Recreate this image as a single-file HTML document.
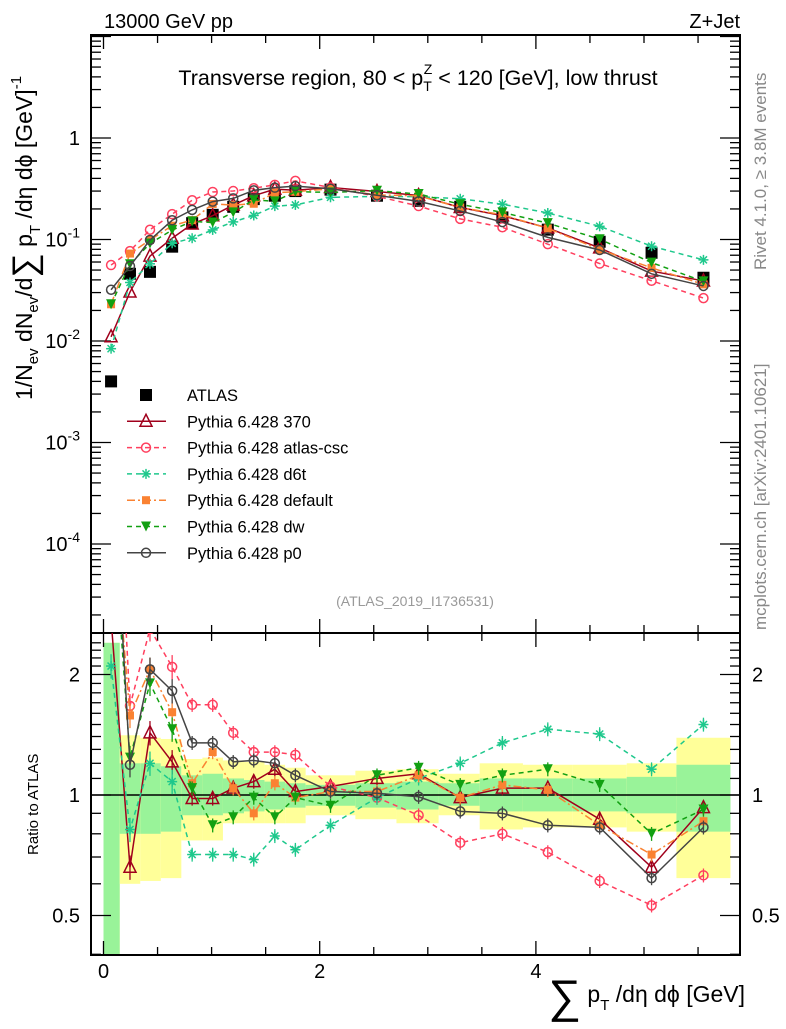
<!DOCTYPE html>
<html><head><meta charset="utf-8"><style>
body{margin:0;background:#fff;}
svg text{font-family:"Liberation Sans",sans-serif;}
</style></head><body>
<svg id="c" width="786" height="1024" viewBox="0 0 786 1024" xmlns="http://www.w3.org/2000/svg">
<defs>
<clipPath id="cm"><rect x="91" y="35" width="649" height="598"/></clipPath>
<clipPath id="cr"><rect x="91" y="633" width="649" height="322"/></clipPath>
</defs>
<text x="104" y="28" font-size="20">13000 GeV pp</text>
<text x="740" y="28" font-size="20" text-anchor="end">Z+Jet</text>
<text x="418" y="85" font-size="21.5" text-anchor="middle">Transverse region, 80 &lt; p<tspan font-size="14" dy="6">T</tspan><tspan font-size="14" dx="-8" dy="-17">Z</tspan><tspan dy="11"> &lt; 120 [GeV], low thrust</tspan></text>
<text transform="translate(766,270) rotate(-90)" font-size="17" fill="#888">Rivet 4.1.0, ≥ 3.8M events</text>
<text transform="translate(766,630) rotate(-90)" font-size="17" fill="#888">mcplots.cern.ch [arXiv:2401.10621]</text>
<text x="415" y="606" font-size="14" fill="#999" text-anchor="middle">(ATLAS_2019_I1736531)</text>
<text transform="translate(32,400) rotate(-90)" font-size="23">1/N<tspan font-size="15" dy="6">ev</tspan><tspan dy="-6"> dN</tspan><tspan font-size="15" dy="6">ev</tspan><tspan dy="-6">/d</tspan><tspan font-size="34" dy="4">∑</tspan><tspan dy="-4"> p</tspan><tspan font-size="15" dy="8">T</tspan><tspan dy="-8"> /dη dϕ  [GeV]</tspan><tspan font-size="15" dy="-11">-1</tspan></text>
<text transform="translate(38,855) rotate(-90)" font-size="15">Ratio to ATLAS</text>
<text x="745" y="1002" font-size="23" text-anchor="end"><tspan font-size="46" dy="10">∑</tspan><tspan dy="-10"> p</tspan><tspan font-size="15" dy="8">T</tspan><tspan dy="-8"> /dη dϕ [GeV]</tspan></text>
<g id="bands" clip-path="url(#cr)"></g>
<g id="axes"></g>
<g id="mainMarks" clip-path="url(#cm)"></g>
<g id="ratioMarks" clip-path="url(#cr)"></g>
<g id="legend"></g>
</svg>
<script>
const xVals=[0.07,0.245,0.43,0.635,0.82,1.01,1.2,1.39,1.585,1.775,2.1,2.53,2.915,3.3,3.69,4.11,4.59,5.07,5.55];
const binEdges=[0,0.15,0.34,0.53,0.72,0.915,1.105,1.3,1.49,1.68,1.87,2.33,2.71,3.1,3.48,3.88,4.34,4.84,5.3,5.8];
const atlas=[0.004,0.046,0.048,0.085,0.145,0.175,0.21,0.25,0.27,0.3,0.31,0.27,0.24,0.21,0.165,0.125,0.095,0.074,0.042];
const r370=[2.75,0.66,1.43,1.21,0.98,0.98,1.04,1.08,1.16,1.02,1.05,1.10,1.13,0.985,1.04,1.04,0.87,0.66,0.93];
const rCsc=[14,1.67,2.6,2.09,1.68,1.68,1.43,1.28,1.28,1.26,1.05,0.985,0.89,0.76,0.80,0.72,0.61,0.53,0.63];
const rD6t=[2.1,0.82,1.2,1.08,0.71,0.71,0.71,0.69,0.79,0.73,0.84,0.985,1.1,1.2,1.35,1.46,1.42,1.16,1.5];
const rDef=[5.75,1.58,2.06,1.61,1.07,1.28,1.04,0.9,1.07,0.985,1.02,1.02,1.12,0.985,1.06,1.03,0.84,0.71,0.86];
const rDw=[5.75,1.24,1.9,1.46,1.04,0.84,0.88,0.985,0.88,0.985,0.94,1.12,1.17,1.06,1.12,1.16,1.06,0.8,0.92];
const rP0=[8,1.19,2.06,1.82,1.35,1.35,1.21,1.22,1.2,1.12,1.02,1.01,0.99,0.91,0.9,0.84,0.83,0.62,0.83];
const yelHi=[2.4,1.41,1.39,1.38,1.23,1.24,1.22,1.21,1.19,1.17,1.12,1.15,1.16,1.13,1.2,1.19,1.19,1.2,1.39];
const grnHi=[2.4,1.2,1.2,1.18,1.12,1.13,1.1,1.09,1.08,1.07,1.06,1.07,1.08,1.07,1.1,1.1,1.1,1.11,1.19];
const grnLo=[0.3,0.8,0.8,0.81,0.89,0.89,0.9,0.91,0.92,0.93,0.94,0.93,0.92,0.94,0.91,0.91,0.91,0.9,0.81];
const yelLo=[0.3,0.6,0.61,0.62,0.77,0.77,0.85,0.85,0.85,0.85,0.89,0.87,0.85,0.89,0.82,0.83,0.83,0.81,0.62];
const mainTicks=["1","10^-1","10^-2","10^-3","10^-4"];
const ratioTicks=[2,1,0.5];
const xTicks=[0,2,4];

const NS="http://www.w3.org/2000/svg";
const L=91,R=740,T=35,MB=633,RB=955;
const X=v=>103.5+v*108.1;
const Y=v=>138-Math.log10(v)*101.5;
const RY=v=>795-Math.log2(v)*120.5;
function mk(tag,attrs,parent){const e=document.createElementNS(NS,tag);for(const k in attrs)e.setAttribute(k,attrs[k]);parent.appendChild(e);return e;}
const bands=document.getElementById('bands'),axes=document.getElementById('axes'),mm=document.getElementById('mainMarks'),rm=document.getElementById('ratioMarks'),lg=document.getElementById('legend');

for(let i=0;i<yelHi.length;i++){
 const x0=X(binEdges[i]),x1=X(binEdges[i+1]);
 const y=mk('rect',{x:x0,y:RY(yelHi[i]),width:x1-x0,height:RY(yelLo[i])-RY(yelHi[i]),fill:'#ffff99'},bands);
 
 
 const g=mk('rect',{x:x0,y:RY(grnHi[i]),width:x1-x0,height:RY(grnLo[i])-RY(grnHi[i]),fill:'#99f399'},bands);
 
 
}
[[T,MB],[MB,RB]].forEach(([a,b])=>{const f=mk('rect',{x:L,y:a,width:R-L,height:b-a,fill:'none',stroke:'#000','stroke-width':2},axes);});
mk('line',{x1:L,x2:R,y1:RY(1),y2:RY(1),stroke:'#000','stroke-width':1.5},axes);
for(let v=0;v<=5.9;v+=0.5){const big=Math.abs(v%2)<1e-6;const len=big?14:8;const px=X(v);
 [T,MB].forEach(y0=>mk('line',{x1:px,x2:px,y1:y0,y2:y0+len,stroke:'#000','stroke-width':1.3},axes));
 [MB,RB].forEach(y0=>mk('line',{x1:px,x2:px,y1:y0,y2:y0-len,stroke:'#000','stroke-width':1.3},axes));}
xTicks.forEach(v=>{const t=mk('text',{x:X(v),y:978,'font-size':20,'text-anchor':'middle'},axes);t.textContent=v;});
for(let d=-5;d<=1;d++){for(let m=1;m<10;m++){const v=m*Math.pow(10,d);const py=Y(v);if(py<T||py>MB)continue;const len=m==1?20:10;
 mk('line',{x1:L,x2:L+len,y1:py,y2:py,stroke:'#000','stroke-width':1.3},axes);mk('line',{x1:R,x2:R-len,y1:py,y2:py,stroke:'#000','stroke-width':1.3},axes);}}
mainTicks.forEach((s,i)=>{const py=Y(Math.pow(10,-i));const t=mk('text',{x:80,y:py+7,'font-size':20,'text-anchor':'end'},axes);
 if(s.indexOf('^')>0){const p=s.split('^');t.textContent=p[0];const sp=mk('tspan',{'font-size':14,dy:-9},t);sp.textContent=p[1];}else t.textContent=s;
 });
for(let v=0.4;v<=2.5;v+=0.1){const py=RY(v);if(py<MB||py>RB)continue;const maj=[0.5,1,2].some(q=>Math.abs(q-v)<1e-6);const len=maj?20:10;
 mk('line',{x1:L,x2:L+len,y1:py,y2:py,stroke:'#000','stroke-width':1.3},axes);mk('line',{x1:R,x2:R-len,y1:py,y2:py,stroke:'#000','stroke-width':1.3},axes);}
ratioTicks.forEach(v=>{const py=RY(v);[[80,'end'],[752,'start']].forEach(([x,a])=>{const t=mk('text',{x:x,y:py+7,'font-size':20,'text-anchor':a},axes);t.textContent=v;});});

function marker(g,type,col,x,y,s){
 s=s||5;
 if(type=='sq') mk('rect',{x:x-s,y:y-s,width:2*s,height:2*s,fill:col},g);
 else if(type=='tri') mk('polygon',{points:`${x},${y-s-2} ${x-s-1},${y+s} ${x+s+1},${y+s}`,fill:'#fff','fill-opacity':0,stroke:col,'stroke-width':1.5},g);
 else if(type=='circ') mk('circle',{cx:x,cy:y,r:s-0.5,fill:'none',stroke:col,'stroke-width':1.5},g);
 else if(type=='star'){for(let a=0;a<4;a++){const an=a*Math.PI/4;mk('line',{x1:x-s*Math.cos(an),y1:y-s*Math.sin(an),x2:x+s*Math.cos(an),y2:y+s*Math.sin(an),stroke:col,'stroke-width':1.5},g);}}
 else if(type=='sqs') mk('rect',{x:x-4,y:y-4,width:8,height:8,fill:col},g);
 else if(type=='dtri') mk('polygon',{points:`${x-s},${y-s} ${x+s},${y-s} ${x},${y+s}`,fill:col},g);
}
const series=[
 {name:'Pythia 6.428 370',r:r370,col:'#a0001c',m:'tri',dash:''},
 {name:'Pythia 6.428 atlas-csc',r:rCsc,col:'#ff3f5e',m:'circ',dash:'5,4'},
 {name:'Pythia 6.428 d6t',r:rD6t,col:'#1ec88c',m:'star',dash:'5,4'},
 {name:'Pythia 6.428 default',r:rDef,col:'#fa8232',m:'sqs',dash:'8,3,2,3'},
 {name:'Pythia 6.428 dw',r:rDw,col:'#12a012',m:'dtri',dash:'5,4'},
 {name:'Pythia 6.428 p0',r:rP0,col:'#444',m:'circ',dash:''}];
atlas.forEach((v,i)=>{const g=mk('g',{},mm);marker(g,'sq','#000',X(xVals[i]),Y(v),6);});
series.forEach((s,si)=>{
 const gm=mk('g',{},mm);
 const gr=mk('g',{},rm);
 const pm=xVals.map((x,i)=>X(x)+','+Y(atlas[i]*s.r[i])).join(' ');
 const pr=xVals.map((x,i)=>X(x)+','+RY(s.r[i])).join(' ');
 mk('polyline',{points:pm,fill:'none',stroke:s.col,'stroke-width':1.5,'stroke-dasharray':s.dash},gm);
 mk('polyline',{points:pr,fill:'none',stroke:s.col,'stroke-width':1.5,'stroke-dasharray':s.dash},gr);
 xVals.forEach((x,i)=>{
  marker(gm,s.m,s.col,X(x),Y(atlas[i]*s.r[i]));
  const e=i<4?0.07:0.04;const px=X(x);
  mk('line',{x1:px,x2:px,y1:RY(s.r[i]*(1+e)),y2:RY(s.r[i]*(1-e)),stroke:s.col,'stroke-width':1.3},gr);
  marker(gr,s.m,s.col,px,RY(s.r[i]));
 });
});
const lgItems=[{name:'ATLAS',col:'#000',m:'sq',dash:null}].concat(series);
lgItems.forEach((s,i)=>{const y=395+i*26.3;const g=mk('g',{},lg);
 if(s.dash!==null) mk('line',{x1:127,x2:166,y1:y,y2:y,stroke:s.col,'stroke-width':1.5,'stroke-dasharray':s.dash},g);
 marker(g,s.m,s.col,146,y,s.m=='sq'?6:5);
 const t=mk('text',{x:187,y:y+6,'font-size':16.5},g);t.textContent=s.name;});
</script>
</body></html>
